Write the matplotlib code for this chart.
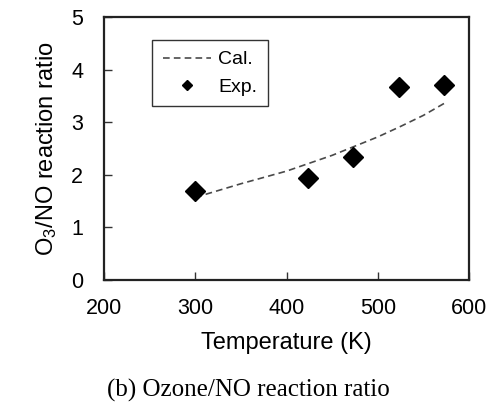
import matplotlib
matplotlib.use("Agg")
import matplotlib.pyplot as plt

# Data
exp_T = [300, 423, 473, 523, 573]
exp_ratio = [1.69, 1.94, 2.34, 3.67, 3.71]
cal_T = [300, 350, 400, 450, 500, 525, 550, 573]
cal_ratio = [1.57, 1.83, 2.07, 2.37, 2.72, 2.92, 3.13, 3.36]
xticks = [200, 300, 400, 500, 600]
yticks = [0, 1, 2, 3, 4, 5]

plt.rcParams['font.family'] = ['Liberation Sans', 'DejaVu Sans']
plt.rcParams['mathtext.default'] = 'regular'

fig = plt.figure(figsize=(4.96, 4.03), dpi=100)
ax = fig.add_axes([0.2097, 0.3052, 0.7359, 0.6526])

ax.plot(cal_T, cal_ratio, linestyle=(0, (4, 2.5)), color='#4a4a4a', lw=1.2, label='Cal.')
ax.plot(exp_T, exp_ratio, linestyle='none', marker='D', ms=10.5, color='black', label='Exp.')

ax.set_xlim(200, 600)
ax.set_ylim(0, 5)
ax.set_xticks(xticks)
ax.set_yticks(yticks)
ax.tick_params(direction='in', length=6, width=1, labelsize=15.5, pad=13, color='#333333')
ax.tick_params(axis='y', pad=15)
for s in ax.spines.values():
    s.set_linewidth(1.6)
    s.set_color('#222222')

ax.set_xlabel('Temperature (K)', fontsize=17, labelpad=9)
ax.set_ylabel('O$_3$/NO reaction ratio', fontsize=17, labelpad=9)

leg = ax.legend(loc='upper left', bbox_to_anchor=(0.1315, 0.9125), borderaxespad=0,
                fontsize=14, fancybox=False, framealpha=1, edgecolor='#333333',
                handlelength=2.5, handletextpad=0.35, borderpad=0.55, labelspacing=0.5,
                numpoints=1)
leg.get_frame().set_linewidth(1.0)
leg.legend_handles[1].set_markersize(5.5)

fig.text(0.5, 0.016, '(b) Ozone/NO reaction ratio', ha='center', va='baseline',
         fontsize=18, family=['Liberation Serif', 'DejaVu Serif'])

fig.savefig('out.png', dpi=100)
